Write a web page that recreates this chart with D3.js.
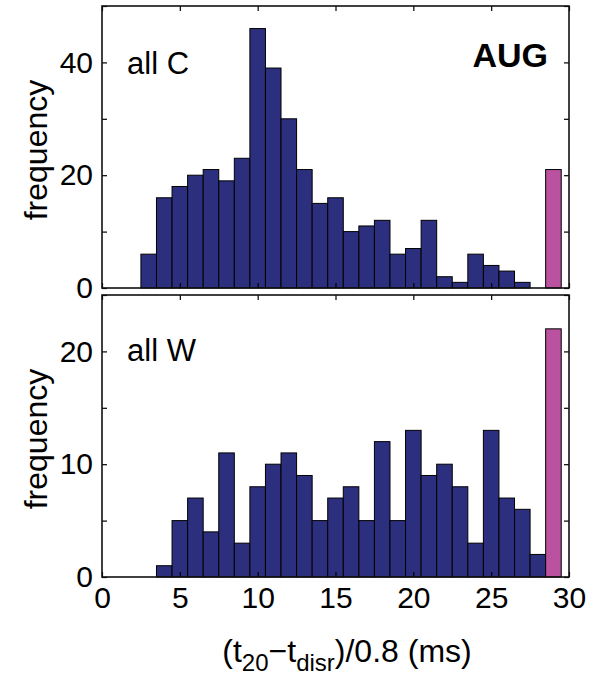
<!DOCTYPE html>
<html>
<head>
<meta charset="utf-8">
<script src="https://cdn.jsdelivr.net/npm/d3@7"></script>
<style>
  html, body { margin: 0; padding: 0; background: #fff; }
  svg { display: block; }
  text { font-family: "Liberation Sans", Arial, Helvetica, sans-serif; fill: #000; }
</style>
</head>
<body>
<svg id="chart" width="600" height="677"></svg>
<script>
// ---- data ----
const binsC = [3,4,5,6,7,8,9,10,11,12,13,14,15,16,17,18,19,20,21,22,23,24,25,26,27];
const countsC = [6,16,18,20,21,19,23,46,39,30,21,15,16,10,11,12,6,7,12,2,1,6,4,3,1];
const lastBinC = 29, lastCountC = 21;

const binsW = [4,5,6,7,8,9,10,11,12,13,14,15,16,17,18,19,20,21,22,23,24,25,26,27,28];
const countsW = [1,5,7,4,11,3,8,10,11,9,5,7,8,5,12,5,13,9,10,8,3,13,7,6,2];
const lastBinW = 29, lastCountW = 22;

const xTicks = [0,5,10,15,20,25,30];
const yTicksC = [0,10,20,30,40,50];
const yLabelsC = [0,20,40];
const yTicksW = [0,5,10,15,20,25];
const yLabelsW = [0,10,20];

// ---- layout ----
const svg = d3.select("#chart");
const X0 = 102, X1 = 569;
const x = d3.scaleLinear().domain([0, 30]).range([X0, X1]);
const BLUE = "#2c2f7e", MAGENTA = "#bb52a0";

function panel(top, bottom, ymax, bins, counts, lastBin, lastCount, yTicks, yLabels, showX, label, labelY) {
  const y = d3.scaleLinear().domain([0, ymax]).range([bottom, top]);
  const g = svg.append("g");
  const data = bins.map((b, i) => ({ b, v: counts[i], c: BLUE }));
  data.push({ b: lastBin, v: lastCount, c: MAGENTA });
  g.selectAll("rect.bar").data(data).enter().append("rect")
    .attr("class", "bar")
    .attr("x", d => x(d.b - 0.5))
    .attr("width", d => x(d.b + 0.5) - x(d.b - 0.5))
    .attr("y", d => y(d.v))
    .attr("height", d => y(0) - y(d.v))
    .attr("fill", d => d.c)
    .attr("stroke", "#000")
    .attr("stroke-width", 1);

  const fmtY = d => yLabels.includes(d) ? d : "";
  const left = d3.axisLeft(y).tickValues(yTicks).tickSize(-5).tickPadding(9).tickFormat(fmtY);
  const right = d3.axisRight(y).tickValues(yTicks).tickSize(-5).tickFormat("");
  const bot = d3.axisBottom(x).tickValues(xTicks).tickSize(-5).tickPadding(10).tickFormat(showX ? d3.format("d") : "");
  const topA = d3.axisTop(x).tickValues(xTicks).tickSize(-5).tickFormat("");

  const styleAxis = sel => {
    sel.select(".domain").remove();
    sel.selectAll(".tick line").attr("stroke", "#000").attr("stroke-width", 1.2);
    sel.selectAll(".tick text").attr("font-size", 30).attr("font-family", "Liberation Sans, Arial, sans-serif").attr("fill", "#000");
  };
  g.append("g").attr("transform", `translate(${X0},0)`).call(left).call(styleAxis);
  g.append("g").attr("transform", `translate(${X1},0)`).call(right).call(styleAxis);
  g.append("g").attr("transform", `translate(0,${bottom})`).call(bot).call(styleAxis);
  g.append("g").attr("transform", `translate(0,${top})`).call(topA).call(styleAxis);

  g.append("rect")
    .attr("x", X0).attr("y", top)
    .attr("width", X1 - X0).attr("height", bottom - top)
    .attr("fill", "none").attr("stroke", "#111").attr("stroke-width", 1.6);

  g.append("text").attr("x", 127).attr("y", labelY).attr("font-size", 31).text(label);

  g.append("text")
    .attr("transform", `translate(47,${(top + bottom) / 2 + 3}) rotate(-90)`)
    .attr("text-anchor", "middle").attr("font-size", 32).text("frequency");
  return y;
}

panel(6, 288, 50, binsC, countsC, lastBinC, lastCountC, yTicksC, yLabelsC, false, "all C", 74);
panel(295, 577, 25, binsW, countsW, lastBinW, lastCountW, yTicksW, yLabelsW, true, "all W", 361);

svg.append("text").attr("x", 548).attr("y", 67).attr("text-anchor", "end")
  .attr("font-size", 34).attr("font-weight", "bold").text("AUG");

const xl = svg.append("text").attr("x", 347).attr("y", 662).attr("text-anchor", "middle").attr("font-size", 32);
xl.append("tspan").text("(t");
xl.append("tspan").attr("font-size", 24).attr("dy", 9).text("20");
xl.append("tspan").attr("dy", -9).text("\u2212t");
xl.append("tspan").attr("font-size", 24).attr("dy", 9).text("disr");
xl.append("tspan").attr("dy", -9).text(")/0.8 (ms)");
</script>
</body>
</html>
